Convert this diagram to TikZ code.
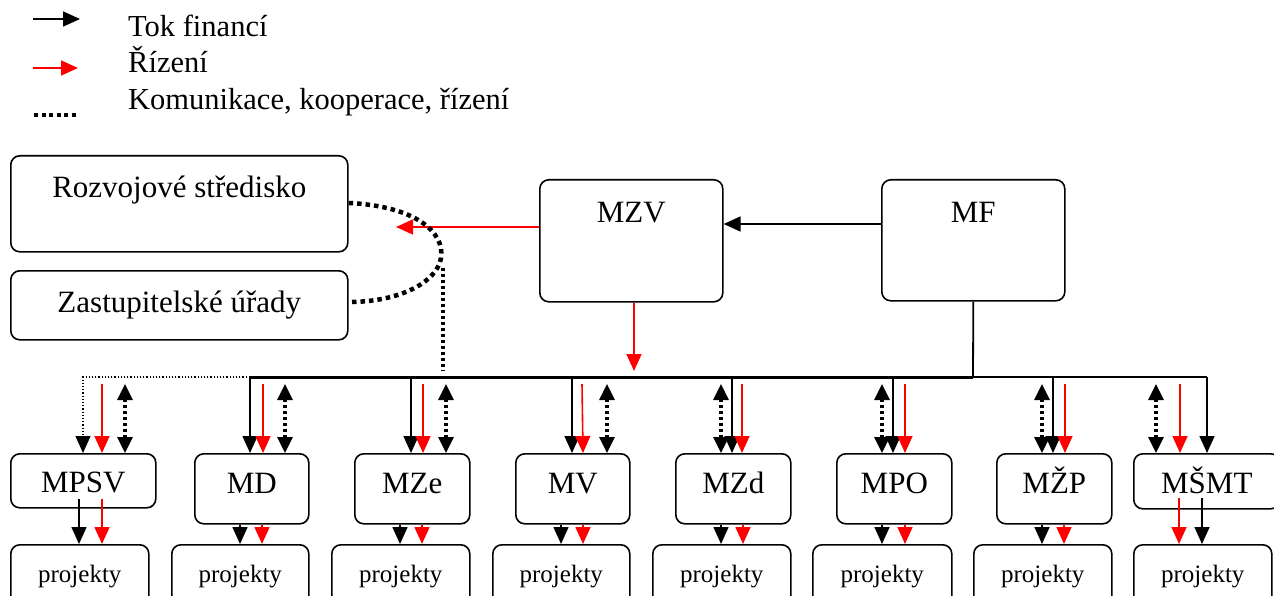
\documentclass[tikz,border=0pt]{standalone}
\usepackage{fontspec}
\setmainfont{Liberation Serif}
\usetikzlibrary{arrows.meta,calc}
\begin{document}
\begin{tikzpicture}[x=1pt,y=-1pt,
  box/.style={draw, rounded corners=9pt, line width=1.6pt, inner sep=0pt, anchor=north west, font=\fontsize{31}{37}\selectfont},
  pbox/.style={box, font=\fontsize{25}{30}\selectfont},
  tip/.style={-{Triangle[length=17pt,width=15pt]}},
  fin/.style={draw=black, line width=1.6pt, tip},
  riz/.style={draw=red, line width=1.6pt, tip},
  kom/.style={draw=black, line width=3.2pt, dash pattern=on 3pt off 3pt, {Triangle[length=16pt,width=15pt]}-{Triangle[length=16pt,width=15pt]}},
  bigdot/.style={draw=black, line width=4.5pt, dash pattern=on 4.5pt off 4pt},
  thindot/.style={draw=black, line width=1.2pt, dotted, tip},
  legtext/.style={anchor=base west, inner sep=0pt, font=\fontsize{30.5}{36}\selectfont}
]
\useasboundingbox (0,0) rectangle (1274,596);
\clip (0,0) rectangle (1274,596);

% legend
\coordinate (l1a) at (33,19); \coordinate (l1b) at (80,19);
\coordinate (l2a) at (33,68); \coordinate (l2b) at (78,68);
\coordinate (l3a) at (34,115); \coordinate (l3b) at (78,115);
\draw[fin] (l1a) -- (l1b);
\draw[riz] (l2a) -- (l2b);
\draw[draw=black, line width=4pt, dash pattern=on 4pt off 3.5pt] (l3a) -- (l3b);
\node[legtext] (t1) at (128,37) {Tok financí};
\node[legtext] (t2) at (128,73) {Řízení};
\node[legtext] (t3) at (128,110) {Komunikace, kooperace, řízení};

% top boxes
\node[box, minimum width=337pt, text height=42pt, text depth=54pt] (rs) at (10,155) {Rozvojové středisko};
\node[box, minimum width=337pt, text height=42pt, text depth=27pt] (zu) at (10,270) {Zastupitelské úřady};
\node[box, minimum width=183pt, text height=43pt, text depth=79pt] (mzv) at (539,179) {MZV};
\node[box, minimum width=183pt, text height=43pt, text depth=78pt] (mf) at (881,179) {MF};

% ministries
\node[box, minimum width=145pt, text height=39pt, text depth=15pt] (m1) at (10,453) {MPSV};
\node[box, minimum width=114pt, text height=40pt, text depth=30pt] (m2) at (194,453) {MD};
\node[box, minimum width=115pt, text height=40pt, text depth=30pt] (m3) at (354,453) {MZe};
\node[box, minimum width=114pt, text height=40pt, text depth=30pt] (m4) at (515,453) {MV};
\node[box, minimum width=115pt, text height=40pt, text depth=30pt] (m5) at (675,453) {MZd};
\node[box, minimum width=115pt, text height=40pt, text depth=30pt] (m6) at (836,453) {MPO};
\node[box, minimum width=115pt, text height=40pt, text depth=30pt] (m7) at (996,453) {MŽP};
\node[box, minimum width=146pt, text height=40pt, text depth=15pt] (m8) at (1133,453) {MŠMT};

% projekty
\node[pbox, minimum width=138pt, text height=38pt, text depth=40pt] (p1) at (10,544) {projekty};
\node[pbox, minimum width=137pt, text height=38pt, text depth=40pt] (p2) at (171,544) {projekty};
\node[pbox, minimum width=138pt, text height=38pt, text depth=40pt] (p3) at (331,544) {projekty};
\node[pbox, minimum width=137pt, text height=38pt, text depth=40pt] (p4) at (492,544) {projekty};
\node[pbox, minimum width=138pt, text height=38pt, text depth=40pt] (p5) at (652,544) {projekty};
\node[pbox, minimum width=139pt, text height=38pt, text depth=40pt] (p6) at (812,544) {projekty};
\node[pbox, minimum width=138pt, text height=38pt, text depth=40pt] (p7) at (973,544) {projekty};
\node[pbox, minimum width=138pt, text height=38pt, text depth=40pt] (p8) at (1133,544) {projekty};

% MF -> MZV, MZV -> left, MZV -> down
\draw[fin] (mf.west |- 0,224) -- (mzv.east |- 0,224);
\coordinate (rsin) at (396,227);
\draw[riz] (mzv.west |- 0,227) -- (rsin);
\coordinate (busarr) at (634,371);
\draw[riz] (mzv.south -| 634,0) -- (busarr);

% communication curve
\draw[bigdot] (rs.east |- 0,203) .. controls (415,206) and (445,232) .. (441,258)
  .. controls (437,282) and (400,302) .. (zu.east |- 0,302);
\coordinate (vtop) at (443,268);
\coordinate (vbot) at (443,371);
\draw[draw=black, line width=3.2pt, dash pattern=on 3pt off 3pt] (vtop) -- (vbot);

% bus
\coordinate (busL) at (250,377);
\coordinate (busM) at (973,377);
\coordinate (busR) at (1207,377);
\draw[line width=3pt] (busL) -- (busM);
\draw[line width=1.6pt] (busM) -- (busR);
\draw[line width=1.8pt] (mf.south) -- (busM);

% MPSV top
\draw[thindot] (busL) -| (m1.north -| 83,0);
\draw[riz] (102,384) -- (m1.north -| 102,0);
\draw[kom] (125,384) -- (m1.north -| 125,0);
% MD
\draw[fin] (busL) -- (m2.north -| busL);
\draw[riz] (263,384) -- (m2.north -| 263,0);
\draw[kom] (285,384) -- (m2.north -| 285,0);
% MZe
\draw[fin] (411,377) -- (m3.north -| 411,0);
\draw[riz] (423,384) -- (m3.north -| 423,0);
\draw[kom] (446,384) -- (m3.north -| 446,0);
% MV
\draw[fin] (572,377) -- (m4.north -| 572,0);
\draw[riz] (582,384) -- (m4.north -| 583,0);
\draw[kom] (607,384) -- (m4.north -| 607,0);
% MZd
\draw[kom] (721,384) -- (m5.north -| 721,0);
\draw[fin] (732,377) -- (m5.north -| 732,0);
\draw[riz] (742,384) -- (m5.north -| 742,0);
% MPO
\draw[kom] (882,384) -- (m6.north -| 882,0);
\draw[fin] (893,377) -- (m6.north -| 893,0);
\draw[riz] (905,384) -- (m6.north -| 905,0);
% MZP
\draw[kom] (1042,384) -- (m7.north -| 1042,0);
\draw[fin] (1053,377) -- (m7.north -| 1053,0);
\draw[riz] (1065,384) -- (m7.north -| 1065,0);
% MSMT
\draw[kom] (1156,384) -- (m8.north -| 1156,0);
\draw[riz] (1180,384) -- (m8.north -| 1180,0);
\draw[fin] (busR) -- (m8.north -| busR);

% ministries -> projekty
\draw[fin] (79,499) -- (p1.north -| 79,0);
\draw[riz] (102,499) -- (p1.north -| 102,0);
\draw[fin] (m2.south -| 240,0) -- (p2.north -| 240,0);
\draw[riz] (m2.south -| 262,0) -- (p2.north -| 262,0);
\draw[fin] (m3.south -| 400,0) -- (p3.north -| 400,0);
\draw[riz] (m3.south -| 422,0) -- (p3.north -| 422,0);
\draw[fin] (m4.south -| 561,0) -- (p4.north -| 561,0);
\draw[riz] (m4.south -| 583,0) -- (p4.north -| 583,0);
\draw[fin] (m5.south -| 721,0) -- (p5.north -| 721,0);
\draw[riz] (m5.south -| 743,0) -- (p5.north -| 743,0);
\draw[fin] (m6.south -| 882,0) -- (p6.north -| 882,0);
\draw[riz] (m6.south -| 905,0) -- (p6.north -| 905,0);
\draw[fin] (m7.south -| 1042,0) -- (p7.north -| 1042,0);
\draw[riz] (m7.south -| 1064,0) -- (p7.north -| 1064,0);
\draw[riz] (1179,498) -- (p8.north -| 1179,0);
\draw[fin] (1202,498) -- (p8.north -| 1202,0);
\end{tikzpicture}
\end{document}
